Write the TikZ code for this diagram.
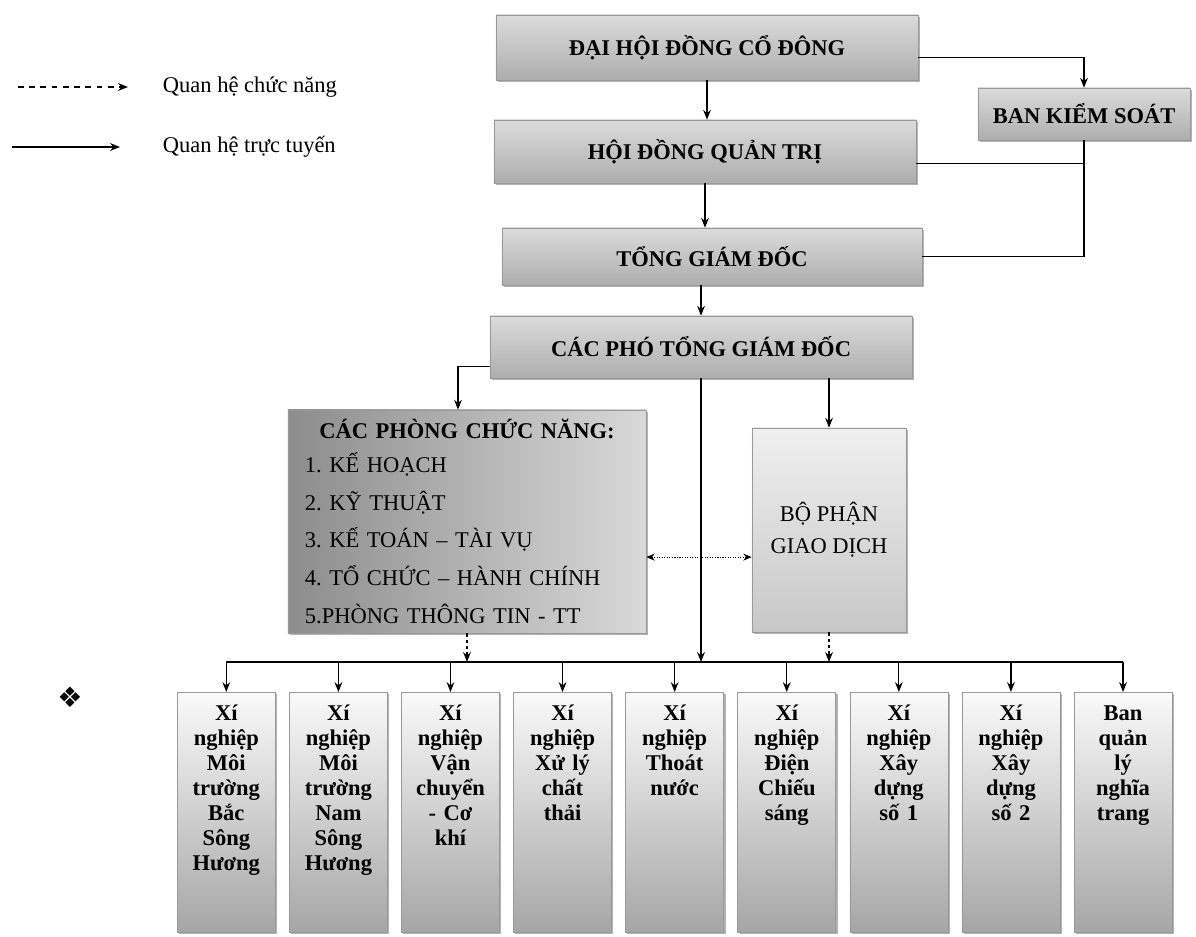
\documentclass[tikz,border=0pt]{standalone}
\usepackage{fontspec}
\setmainfont{Liberation Serif}
\newfontfamily\dingfont{DejaVu Sans}
\usetikzlibrary{positioning, arrows.meta, calc, shadows}
\frenchspacing

\begin{document}
\begin{tikzpicture}[x=0.025cm, y=-0.025cm, >=Stealth, node distance=0.3375cm,
    box/.style={draw=black!40, thin,
                drop shadow={shadow xshift=1.3pt, shadow yshift=-1.5pt, fill=black!60}},
    headbox/.style={box, top color=black!14, bottom color=black!32, inner sep=0pt,
                    font=\bfseries\fontsize{16}{19}\selectfont},
    unitbox/.style={box, top color=black!2, bottom color=black!35, text width=2.25cm,
                    inner xsep=0.1cm, inner ysep=0pt, text height=0.7cm, text depth=5.3cm,
                    align=center, font=\bfseries\fontsize{16}{17.8}\selectfont},
    arr/.style={-{Stealth[length=7pt, width=5.5pt]}, line width=0.9pt},
    link/.style={line width=0.9pt},
    funarr/.style={arr, dash pattern=on 2.5pt off 2pt}]
    \useasboundingbox (0,0) rectangle (1196,937);

    % legend
    \node[anchor=west, font=\fontsize{16}{19}\selectfont] (lgfun) at (158,87) {Quan hệ chức năng};
    \node[anchor=west, font=\fontsize{16}{19}\selectfont] (lgline) at (158,147) {Quan hệ trực tuyến};
    \coordinate (lgfunstart) at (18,87);
    \coordinate (lglinestart) at (12,147);
    \draw[arr, dash pattern=on 4pt off 4pt, line width=1.3pt] (lgfunstart) -- ([xshift=-0.75cm]lgfun.west);
    \draw[arr, line width=1.3pt] (lglinestart) -- ([xshift=-0.95cm]lgline.west);
    \node[font=\dingfont\fontsize{20}{22}\selectfont] (mark) at (70,697) {❖};

    % management
    \node[headbox, minimum width=10.55cm, minimum height=1.625cm] (dhcd) at (707,47.5) {ĐẠI HỘI ĐỒNG CỔ ĐÔNG};
    \node[headbox, minimum width=10.55cm, minimum height=1.575cm] (hdqt) at (705,151.5) {HỘI ĐỒNG QUẢN TRỊ};
    \node[headbox, minimum width=5.3cm, minimum height=1.3cm] (bks) at (1084,114) {BAN KIỂM SOÁT};
    \node[headbox, minimum width=10.5cm, minimum height=1.425cm] (tgd) at (712,256.5) {TỔNG GIÁM ĐỐC};
    \node[headbox, minimum width=10.55cm, minimum height=1.55cm] (pho) at (701,347) {CÁC PHÓ TỔNG GIÁM ĐỐC};

    \node[box, left color=black!45, right color=black!15, minimum width=8.95cm, minimum height=5.575cm,
          text width=8.1cm, inner xsep=0.425cm, align=left, font=\fontsize{16}{27}\selectfont] (phong) at (467,521.5)
        {\makebox[\linewidth]{\bfseries CÁC PHÒNG CHỨC NĂNG:}\\[-3pt]
         1. KẾ HOẠCH\\ 2. KỸ THUẬT\\ 3. KẾ TOÁN – TÀI VỤ\\ 4. TỔ CHỨC – HÀNH CHÍNH\\ 5.PHÒNG THÔNG TIN - TT};
    \node[box, top color=black!6, bottom color=black!22, minimum width=3.85cm, minimum height=5.1cm,
          align=center, font=\fontsize{16}{23}\selectfont] (bophan) at (829,530) {BỘ PHẬN\\GIAO DỊCH};

    % units
    \node[unitbox, anchor=north west] (xn1) at (177,692) {Xí\\nghiệp\\Môi\\trường\\Bắc\\Sông\\Hương};
    \node[unitbox, right=of xn1] (xn2) {Xí\\nghiệp\\Môi\\trường\\Nam\\Sông\\Hương};
    \node[unitbox, right=of xn2] (xn3) {Xí\\nghiệp\\Vận\\chuyển\\- Cơ\\khí};
    \node[unitbox, right=of xn3] (xn4) {Xí\\nghiệp\\Xử lý\\chất\\thải};
    \node[unitbox, right=of xn4] (xn5) {Xí\\nghiệp\\Thoát\\nước};
    \node[unitbox, right=of xn5] (xn6) {Xí\\nghiệp\\Điện\\Chiếu\\sáng};
    \node[unitbox, right=of xn6] (xn7) {Xí\\nghiệp\\Xây\\dựng\\số 1};
    \node[unitbox, right=of xn7] (xn8) {Xí\\nghiệp\\Xây\\dựng\\số 2};
    \node[unitbox, right=of xn8] (xn9) {Ban\\quản\\lý\\nghĩa\\trang};
    \coordinate (bus) at (0,662);

    % connectors
    \draw[arr] (dhcd.south) -- (dhcd.south |- hdqt.north);
    \draw[arr] ([yshift=-0.25cm]dhcd.east) -| (bks.north);
    \draw[link] ([yshift=-0.3cm]hdqt.east) -- ([yshift=-0.3cm]hdqt.east -| bks.south);
    \draw[link] (bks.south) |- (tgd.east);
    \draw[arr] (hdqt.south) -- (hdqt.south |- tgd.north);
    \draw[arr] (pho.north |- tgd.south) -- (pho.north);
    \draw[arr] ([yshift=0.3cm]pho.south west) -| ([xshift=-0.225cm]phong.north);
    \draw[arr] (pho.south -| bophan.north) -- (bophan.north);
    \draw[arr] (pho.south) -- (pho.south |- bus);
    \draw[{Stealth[length=6pt, width=5pt]}-{Stealth[length=6pt, width=5pt]}, densely dotted, line width=0.8pt]
        ([yshift=-0.89cm]phong.east) -- ([yshift=-0.89cm]phong.east -| bophan.west);
    \draw[funarr] (phong.south) -- (phong.south |- bus);
    \draw[funarr] (bophan.south) -- (bophan.south |- bus);
    \draw[link] (xn1.north |- bus) -- (xn9.north |- bus);
    \foreach \i in {1,...,9}
        \draw[arr] (xn\i.north |- bus) -- (xn\i.north);
\end{tikzpicture}
\end{document}
